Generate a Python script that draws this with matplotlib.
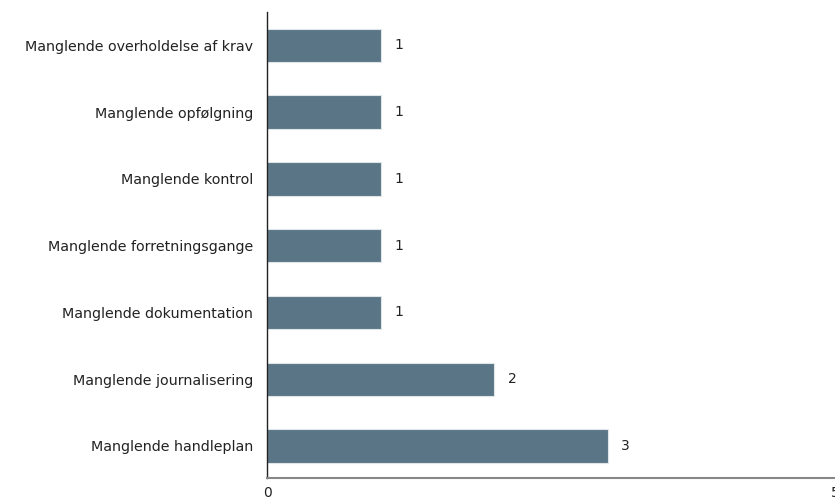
import matplotlib
matplotlib.use("Agg")
import matplotlib.pyplot as plt

categories = ["Manglende handleplan", "Manglende journalisering", "Manglende dokumentation",
              "Manglende forretningsgange", "Manglende kontrol", "Manglende opfølgning",
              "Manglende overholdelse af krav"]
values = [3, 2, 1, 1, 1, 1, 1]
x_ticks = [0, 5]

plt.rcParams['font.family'] = ['DejaVu Sans']
fig = plt.figure(figsize=(8.35, 5.04), dpi=100)
ax = fig.add_axes([267/835, (504-478)/504, (835-267)/835, (478-12)/504])

bar_color = "#5a7585"
ypos = list(range(len(categories)))
ax.barh(ypos, values, height=0.5, color=bar_color, edgecolor="#dfe6ea", linewidth=0.8)
for y, v in zip(ypos, values):
    ax.text(v + 0.12, y, str(v), va="center", ha="left", fontsize=10, color="#222222")

ax.set_xlim(0, 5)
ax.set_ylim(-0.48, 6.5)
ax.set_yticks(ypos)
ax.set_yticklabels(categories, fontsize=10.3, color="#222222")
ax.set_xticks(x_ticks)
ax.set_xticklabels([str(t) for t in x_ticks], fontsize=10, color="#222222")
ax.tick_params(axis="both", length=0)
ax.tick_params(axis="y", pad=10)
ax.tick_params(axis="x", pad=6)
for s in ["top", "right"]:
    ax.spines[s].set_visible(False)
ax.spines["left"].set_color("#222222")
ax.spines["left"].set_linewidth(1.0)
ax.spines["bottom"].set_color("#888888")
ax.spines["bottom"].set_linewidth(1.5)

fig.savefig("out.png", dpi=100)
